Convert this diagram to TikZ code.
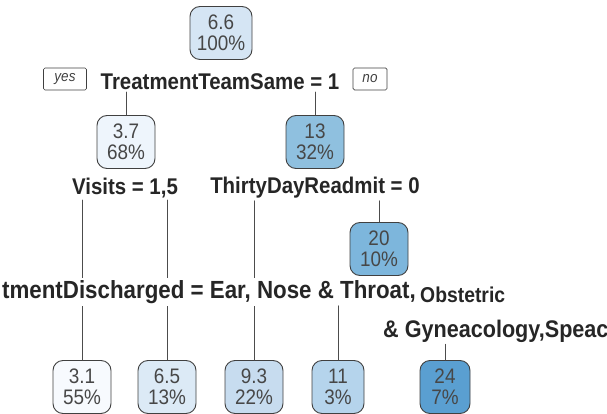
\documentclass[tikz,border=0pt]{standalone}
\usepackage{fontspec}
\setmainfont{Liberation Sans}[FakeStretch=0.9]
\usepackage{tikz}
\definecolor{bl0}{HTML}{F7FAFE}
\definecolor{bl1}{HTML}{EEF5FC}
\definecolor{bl2}{HTML}{DCEAF6}
\definecolor{bl3}{HTML}{D5E5F4}
\definecolor{bl4}{HTML}{C7DCEF}
\definecolor{bl5}{HTML}{B5D4EC}
\definecolor{bl6}{HTML}{8FC0DF}
\definecolor{bl7}{HTML}{7DB6DC}
\definecolor{bl8}{HTML}{5A9FD1}

\begin{document}
\begin{tikzpicture}[x=1pt,y=-1pt,line cap=round,
    box/.style={draw=black!75,line width=0.9pt,rounded corners=10pt,minimum width=58pt,
      minimum height=53pt,inner sep=1pt,align=center,text=black!72,
      font=\fontsize{21}{21}\selectfont},
    split/.style={fill=white,inner sep=2pt,text=black!85,
      font=\bfseries\fontsize{22.7}{23}\selectfont},
    wide/.style={split,font=\bfseries\fontsize{24.8}{25}\selectfont},
    tag/.style={draw=black!75,line width=0.7pt,rounded corners=1.5pt,minimum height=22pt,
      inner sep=2pt,text=black!75,font=\itshape\fontsize{15}{15}\selectfont},
    edge/.style={draw=black!70,line width=1pt}]
  \useasboundingbox (0,0) rectangle (607,414);
  \clip (0,0) rectangle (607,414);

  % ---------------- root and first split ----------------
  \node[box,fill=bl3,minimum width=62pt] (root) at (221,33) {6.6\\100\%};
  \node[split] (team) at (220,82) {TreatmentTeamSame = 1};
  \node[tag,minimum width=43pt] (yes) at (65,79) {yes};
  \node[tag,minimum width=34pt] (no) at (370,79) {no};

  % ---------------- second level ----------------
  \node[box,fill=bl1] (n2) at (126,142) {3.7\\68\%};
  \node[box,fill=bl6] (n3) at (315,142) {13\\32\%};
  \draw[edge] (team.south -| n2.north) -- (n2.north);
  \draw[edge] (team.south -| n3.north) -- (n3.north);
  \node[split] (visits) at (125,188) {Visits = 1,5};
  \node[split] (thirty) at (315,188) {ThirtyDayReadmit = 0};
  \node[box,fill=bl7] (n7) at (379,249) {20\\10\%};
  \draw[edge] (thirty.south -| n7.north) -- (n7.north);

  % ---------------- leaves ----------------
  \foreach \nm/\x/\col/\val/\pc in {l1/82/bl0/3.1/55,l2/167/bl2/6.5/13,l3/254/bl4/9.3/22}
    \node[box,fill=\col] (\nm) at (\x,387) {\val\\\pc\%};
  \node[box,fill=bl5,minimum width=52pt] (l4) at (338,387) {11\\3\%};
  \node[box,fill=bl8,minimum width=50pt] (l5) at (445,387) {24\\7\%};
  \draw[edge] (visits.south -| l1.north) -- (l1.north);
  \draw[edge] (visits.south -| l2.north) -- (l2.north);
  \draw[edge] (thirty.south -| l3.north) -- (l3.north);

  % ---------------- department split, cut at both sides ----------------
  \node[wide,anchor=east] (dept) at (418,292) {tmentDischarged = Ear, Nose \& Throat,};
  \node[split,anchor=west,fill=none,font=\bfseries\fontsize{21.5}{22}\selectfont]
    (obst) at ([yshift=-3pt]dept.east) {Obstetric};
  \node[split,anchor=west,font=\bfseries\fontsize{24}{24}\selectfont]
    (gyn) at (381,331) {\& Gyneacology,Speac};
  \draw[edge] (dept.south -| l4.north) -- (l4.north);
  \draw[edge] (gyn.south -| l5.north) -- (l5.north);
\end{tikzpicture}
\end{document}
